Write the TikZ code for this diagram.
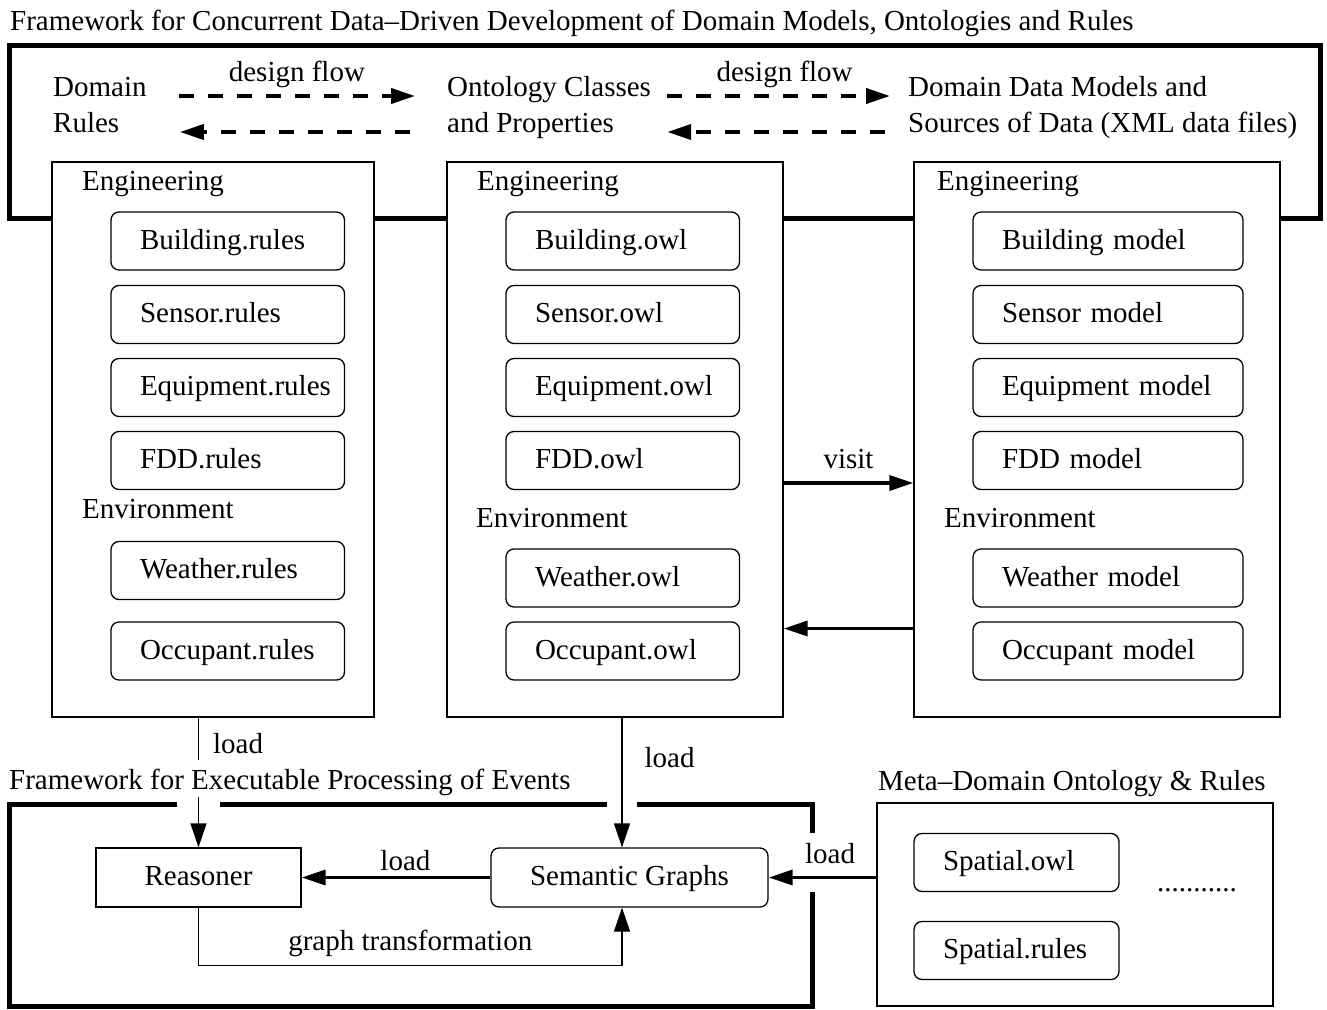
\documentclass[tikz,border=0pt]{standalone}
\usepackage{fontspec}
\setmainfont{Liberation Serif}
\usetikzlibrary{arrows.meta,calc}
\tikzset{
	txt/.style={inner sep=0pt},
	lbl/.style={inner sep=0pt, anchor=base west},
	panel/.style={draw, fill=white, line width=1.3pt, inner sep=0pt},
	itembox/.style={draw, line width=1.3pt, rounded corners=8pt, minimum height=58pt, text width=#1, align=left, inner xsep=0pt, inner ysep=0pt, text height=20pt, text depth=4pt, execute at begin node={\hspace*{29pt}}},
	procbox/.style={draw, line width=1.3pt, minimum width=#1, minimum height=59pt, inner sep=0pt, text height=20pt, text depth=4pt},
	flow/.style={line width=4pt, dash pattern=on 15pt off 14pt, -{Triangle[length=24pt,width=15pt]}},
	thickarr/.style={line width=3.5pt, -{Triangle[length=24pt,width=15pt]}},
	thinarr/.style={line width=1.3pt, -{Triangle[length=24pt,width=16pt]}},
	frame/.style={line width=5pt},
}

\begin{document}
\begin{tikzpicture}[x=1pt, y=-1pt, font=\fontsize{29pt}{36pt}\selectfont]
		%%%%% START %%%%%
		\useasboundingbox (0,0) rectangle (1327,1009);
		
		\node[lbl] (mainTitle) at (10,30) {Framework for Concurrent Data–Driven Development of Domain Models, Ontologies and Rules};
		\draw[frame] (9.5,45.5) rectangle (1320,218);
		
		\node[lbl] (dom1) at (53,96) {Domain};
		\node[lbl] (dom2) at (53,132) {Rules};
		\node[lbl] (onto1) at (447,96) {Ontology Classes};
		\node[lbl] (onto2) at (447,132) {and Properties};
		\node[lbl] (ddm1) at (908,96) {Domain Data Models and};
		\node[lbl] (ddm2) at (908,132) {Sources of Data (XML data files)};
		
		\draw[flow, shorten <=32pt, shorten >=32pt] (dom1.base east) -- node[txt, above=6pt]{design flow} (onto1.base west);
		\draw[flow, shorten <=16pt, shorten >=18pt] (onto1.base east) -- node[txt, above=6pt, xshift=5pt]{design flow} (ddm1.base west);
		\draw[flow, shorten <=37pt, shorten >=33pt] (onto2.base west) -- (dom1.base east |- dom2.base);
		\draw[flow, shorten <=23pt, shorten >=16pt] (ddm2.base west) -- (onto1.base east |- onto2.base);
		
		\node[panel, minimum width=322pt, minimum height=555pt] (rulesBox) at (213,439.5) {};
		\node[panel, minimum width=336pt, minimum height=555pt] (owlBox) at (615,439.5) {};
		\node[panel, minimum width=366pt, minimum height=555pt] (modelBox) at (1097,439.5) {};
		
		\node[lbl] (engR) at (82,190) {Engineering};
		\node[lbl] (engO) at (477,190) {Engineering};
		\node[lbl] (engM) at (937,190) {Engineering};
		\node[lbl] (envR) at (82,518) {Environment};
		\node[lbl] (envO) at (476,527) {Environment};
		\node[lbl] (envM) at (944,527) {Environment};
		
		\node[itembox=233.5pt] (bldR) at (227.75,241) {Building.rules};
		\node[itembox=233.5pt] (snsR) at (227.75,314.5) {Sensor.rules};
		\node[itembox=233.5pt] (eqpR) at (227.75,387.5) {Equipment.rules};
		\node[itembox=233.5pt] (fddR) at (227.75,460.5) {FDD.rules};
		\node[itembox=233.5pt] (wthR) at (227.75,570.5) {Weather.rules};
		\node[itembox=233.5pt] (occR) at (227.75,651) {Occupant.rules};
		
		\node[itembox=233.5pt] (bldO) at (622.75,241) {Building.owl};
		\node[itembox=233.5pt] (snsO) at (622.75,314.5) {Sensor.owl};
		\node[itembox=233.5pt] (eqpO) at (622.75,387.5) {Equipment.owl};
		\node[itembox=233.5pt] (fddO) at (622.75,460.5) {FDD.owl};
		\node[itembox=233.5pt] (wthO) at (622.75,578) {Weather.owl};
		\node[itembox=233.5pt] (occO) at (622.75,651) {Occupant.owl};
		
		\node[itembox=270pt] (bldM) at (1108,241) {Building model};
		\node[itembox=270pt] (snsM) at (1108,314.5) {Sensor model};
		\node[itembox=270pt] (eqpM) at (1108,387.5) {Equipment model};
		\node[itembox=270pt] (fddM) at (1108,460.5) {FDD model};
		\node[itembox=270pt] (wthM) at (1108,578) {Weather model};
		\node[itembox=270pt] (occM) at (1108,651) {Occupant model};
		
		\draw[thickarr] ([yshift=-43.5pt]owlBox.east) -- node[txt, above=12pt]{visit} ([yshift=-43.5pt]modelBox.west);
		\draw[thickarr] ([yshift=-189pt]modelBox.west) -- ([yshift=-189pt]owlBox.east);
		
		% executable processing
		\draw[frame] (177,804) -- (9,804) -- (9,1006) -- (812,1006) -- (812,892);
		\draw[frame] (607,804) -- (220,804);
		\draw[frame] (637,804) -- (812,804) -- (812,833);
		
		\node[procbox=205pt] (reasoner) at (198.5,877.5) {Reasoner};
		\node[procbox=277pt, rounded corners=8pt] (sem) at (629.5,877.5) {Semantic Graphs};
		
		\node[lbl] (metaTitle) at (878,790) {Meta–Domain Ontology \& Rules};
		\node[panel, minimum width=396pt, minimum height=203pt] (metaBox) at (1075,904.5) {};
		\node[itembox=205pt] (spOwl) at (1016.5,862.5) {Spatial.owl};
		\node[itembox=205pt] (spRules) at (1016.5,950.5) {Spatial.rules};
		\node[lbl] (dots) at (1157,891) {...........};
		
		\draw[thickarr] (sem) -- node[txt, pos=0.45, above=5pt]{load} (reasoner);
		\draw[thickarr] (metaBox.west |- sem) -- node[txt, pos=0.43, above=12pt]{load} (sem);
		\draw[thinarr] (rulesBox.south -| reasoner) -- node[txt, pos=0.2, right=14pt]{load} (reasoner.north);
		\draw[thinarr] ([xshift=7pt]owlBox.south) -- node[txt, pos=0.31, right=22pt]{load} ([xshift=-7.5pt]sem.north);
		\draw[thinarr] (reasoner.south) -- ++(0,58) -| node[txt, pos=0.25, above=8pt]{graph transformation} ([xshift=-7.5pt]sem.south);
		
		\node[lbl, fill=white, text height=29pt, text depth=8pt] (botTitle) at (9,789) {Framework for Executable Processing of Events};
		%%%%% END %%%%%
\end{tikzpicture}
\end{document}
